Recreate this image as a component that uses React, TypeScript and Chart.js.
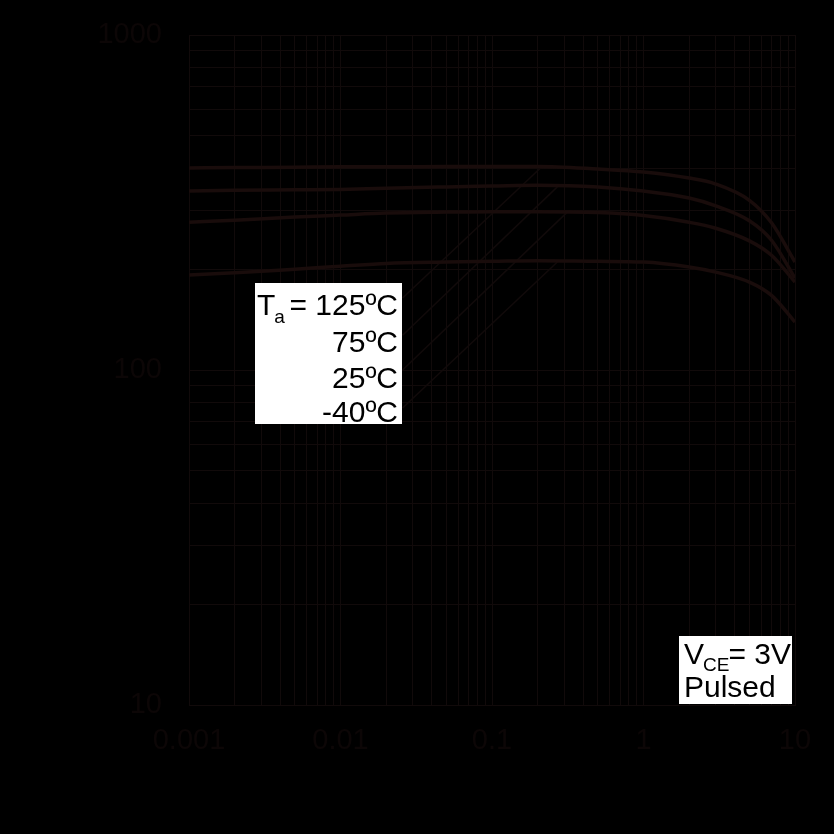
import React, { useEffect, useRef } from "react";
import { Chart, registerables } from "chart.js";

Chart.register(...registerables);

// Collector current IC (A)
const IC = [0.001, 0.002, 0.005, 0.01, 0.02, 0.05, 0.1, 0.2, 0.5, 1, 2, 3, 5, 7, 10];
// DC current gain hFE per ambient temperature
const HFE_125 = [401, 402, 403, 404, 404, 405, 405, 405, 398, 390, 374, 359, 321, 275, 210];
const HFE_75 = [342, 344, 345, 346, 349, 352, 354, 356, 352, 342, 326, 309, 279, 244, 188];
const HFE_25 = [276, 280, 286, 290, 294, 296, 297, 297, 295, 289, 276, 265, 243, 220, 183];
const HFE_N40 = [192, 195, 200, 204, 208, 210, 211, 212, 211, 210, 203, 196, 183, 167, 139];

// Leader lines from the temperature labels to the curves: [x0, y0, x1, y1]
const LEADER_125 = [0.0257, 164, 0.209, 401];
const LEADER_75 = [0.0257, 127, 0.27, 352];
const LEADER_25 = [0.0257, 100, 0.314, 296];
const LEADER_N40 = [0.0257, 77, 0.27, 210];

const X_DECADES = [0.001, 0.01, 0.1, 1, 10];
const Y_DECADES = [10, 100, 1000];
const MINOR_STEPS = [1, 2, 3, 4, 5, 6, 7, 8, 9];

const TEMP_LABELS = ["125ºC", "75ºC", "25ºC", "-40ºC"];

const INK = "#0c0606";
const GRID = "#110a0a";
const CURVE = "#190c0b";
const FONT = "Arial, 'Liberation Sans', sans-serif";

function gridValues(decades: number[]) {
  const out: number[] = [];
  decades.forEach((d, i) => {
    if (i === decades.length - 1) {
      out.push(d);
    } else {
      MINOR_STEPS.forEach((m) => out.push(parseFloat((d * m).toPrecision(6))));
    }
  });
  return out;
}

function curve(ys: number[]) {
  return IC.map((x, i) => ({ x, y: ys[i] }));
}
function leader(l: number[]) {
  return [
    { x: l[0], y: l[1] },
    { x: l[2], y: l[3] },
  ];
}

const boxesPlugin = {
  id: "boxes",
  beforeDraw(chart: any) {
    const ctx = chart.ctx;
    ctx.save();
    ctx.fillStyle = "#000";
    ctx.fillRect(0, 0, chart.width, chart.height);
    ctx.restore();
  },
  afterDatasetsDraw(chart: any) {
    const ctx = chart.ctx;
    ctx.save();
    // temperature label box
    ctx.fillStyle = "#fff";
    ctx.fillRect(255, 283, 147, 141);
    ctx.fillStyle = "#000";
    ctx.textBaseline = "alphabetic";
    const big = `30px ${FONT}`;
    const small = `19px ${FONT}`;
    const rightX = 398;
    // first line: Ta = 125ºC
    ctx.font = big;
    ctx.textAlign = "left";
    const tx = 257;
    ctx.fillText("T", tx, 315);
    const wT = ctx.measureText("T").width;
    ctx.font = small;
    ctx.fillText("a", tx + wT - 1, 323);
    ctx.font = big;
    ctx.textAlign = "right";
    ctx.fillText("= " + TEMP_LABELS[0], rightX, 315);
    const baselines = [352, 388, 422];
    for (let i = 1; i < TEMP_LABELS.length; i++) {
      ctx.fillText(TEMP_LABELS[i], rightX, baselines[i - 1]);
    }
    // condition box
    ctx.fillStyle = "#fff";
    ctx.fillRect(679, 636, 113, 68);
    ctx.fillStyle = "#000";
    ctx.textAlign = "left";
    ctx.font = big;
    const vx = 684;
    ctx.fillText("V", vx, 664);
    const wV = ctx.measureText("V").width;
    ctx.font = small;
    ctx.fillText("CE", vx + wV - 1, 671);
    const wCE = ctx.measureText("CE").width;
    ctx.font = big;
    ctx.fillText("= 3V", vx + wV + wCE - 2, 664);
    ctx.fillText("Pulsed", vx, 697);
    ctx.restore();
  },
};

export default function App() {
  const ref = useRef<HTMLCanvasElement | null>(null);
  useEffect(() => {
    document.body.style.margin = "0";
    document.body.style.background = "#000";
    const canvas = ref.current;
    if (!canvas) return;
    const xGrid = gridValues(X_DECADES);
    const yGrid = gridValues(Y_DECADES);
    const curveStyle = {
      borderColor: CURVE,
      borderWidth: 3.5,
      pointRadius: 0,
      cubicInterpolationMode: "monotone" as const,
      fill: false,
    };
    const leaderStyle = {
      borderColor: GRID,
      borderWidth: 1.5,
      pointRadius: 0,
      fill: false,
    };
    const chart = new Chart(canvas, {
      type: "line",
      data: {
        datasets: [
          { label: "125ºC", data: curve(HFE_125), ...curveStyle },
          { label: "75ºC", data: curve(HFE_75), ...curveStyle },
          { label: "25ºC", data: curve(HFE_25), ...curveStyle },
          { label: "-40ºC", data: curve(HFE_N40), ...curveStyle },
          { label: "l125", data: leader(LEADER_125), ...leaderStyle },
          { label: "l75", data: leader(LEADER_75), ...leaderStyle },
          { label: "l25", data: leader(LEADER_25), ...leaderStyle },
          { label: "l-40", data: leader(LEADER_N40), ...leaderStyle },
        ],
      },
      options: {
        animation: false,
        responsive: false,
        devicePixelRatio: 1,
        layout: { padding: { top: 35, right: 39, left: 0, bottom: 0 } },
        plugins: { legend: { display: false }, tooltip: { enabled: false } },
        scales: {
          x: {
            type: "logarithmic",
            min: 0.001,
            max: 10,
            afterBuildTicks: (s: any) => {
              s.ticks = xGrid.map((v) => ({ value: v, major: X_DECADES.includes(v) }));
            },
            afterFit: (s: any) => {
              s.height = 129;
              s.paddingLeft = 0;
              s.paddingRight = 0;
            },
            ticks: {
              autoSkip: false,
              maxRotation: 0,
              padding: 19,
              color: INK,
              font: { family: FONT, size: 29 },
              callback: (v: any) => (X_DECADES.includes(Number(v)) ? String(v) : ""),
            },
            grid: { color: GRID, lineWidth: 1, drawTicks: false },
            border: { color: GRID, width: 1 },
          },
          y: {
            type: "logarithmic",
            min: 10,
            max: 1000,
            afterBuildTicks: (s: any) => {
              s.ticks = yGrid.map((v) => ({ value: v, major: Y_DECADES.includes(v) }));
            },
            afterFit: (s: any) => {
              s.width = 189;
              s.paddingTop = 0;
              s.paddingBottom = 0;
            },
            ticks: {
              autoSkip: false,
              padding: 27,
              color: INK,
              font: { family: FONT, size: 29 },
              callback: (v: any) => (Y_DECADES.includes(Number(v)) ? String(v) : ""),
            },
            grid: { color: GRID, lineWidth: 1, drawTicks: false },
            border: { color: GRID, width: 1 },
          },
        },
      },
      plugins: [boxesPlugin],
    });
    return () => chart.destroy();
  }, []);
  return (
    <div style={{ position: "fixed", left: 0, top: 0, width: 834, height: 834, background: "#000" }}>
      <canvas ref={ref} width={834} height={834} style={{ display: "block", width: 834, height: 834 }} />
    </div>
  );
}
